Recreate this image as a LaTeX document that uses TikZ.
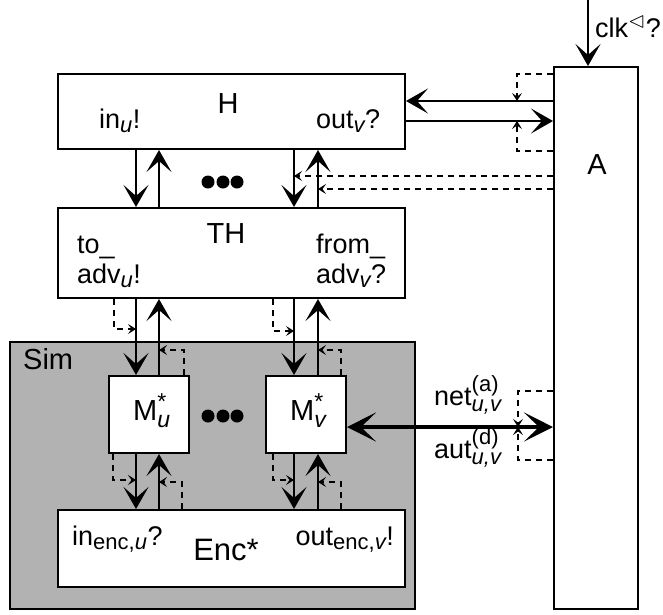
\RequirePackage{fix-cm}
\documentclass[tikz,border=0pt]{standalone}
\usepackage{amsmath}
\usepackage{amssymb}
\usepackage{fontspec}
\setmainfont{Liberation Sans}
\DeclareMathSizes{27}{27}{22}{18}
\DeclareMathSizes{29}{29}{23}{19}
\DeclareMathSizes{31}{31}{24}{19}
\usetikzlibrary{arrows.meta}

\tikzset{
  box/.style={draw, line width=2pt, fill=white, inner sep=0pt, anchor=north west},
  arr/.style={line width=2pt, -{Stealth[length=22pt,width=25pt,inset=11pt]}},
  wide/.style={line width=4pt, {Stealth[length=29pt,width=29pt,inset=15pt]}-{Stealth[length=29pt,width=29pt,inset=15pt]}},
  cue/.style={line width=1.5pt, dash pattern=on 6pt off 5pt, -{Stealth[length=8pt,width=10pt,inset=3.5pt]}},
  lbl/.style={font=\fontsize{27}{30}\selectfont, inner sep=0pt},
  ttl/.style={font=\fontsize{29}{32}\selectfont, inner sep=0pt},
  dot/.style={fill=black},
}

\begin{document}
\begin{tikzpicture}[x=1pt, y=-1pt]
\useasboundingbox (0,0) rectangle (663,614);
% boxes
\node[box, fill=black!30, minimum width=405pt, minimum height=267pt] (Sim) at (9,341) {};
\node[box, minimum width=347pt, minimum height=75pt] (H) at (57,73) {};
\node[box, minimum width=347pt, minimum height=90pt] (TH) at (57,207) {};
\node[box, minimum width=80pt, minimum height=77pt] (Mu) at (108,375) {};
\node[box, minimum width=80pt, minimum height=77pt] (Mv) at (265,375) {};
\node[box, minimum width=347pt, minimum height=77pt] (Enc) at (57,509) {};
\node[box, minimum width=84pt, minimum height=542pt] (A) at (553,66) {};
% texts
\node[ttl] (Ht) at (228,104) {H};
\node[lbl, anchor=base west] (Hin) at (99,128) {in$_{\textit{u}}$!};
\node[lbl, anchor=base west] (Hout) at (316,128) {out$_{\textit{v}}$?};
\node[ttl] (THt) at (226,234) {TH};
\node[lbl, anchor=base west] (THto) at (77,253) {to\_};
\node[lbl, anchor=base west] (THadvu) at (77,283) {adv$_{\textit{u}}$!};
\node[lbl, anchor=base west] (THfrom) at (316,253) {from\_};
\node[lbl, anchor=base west] (THadvv) at (316,283) {adv$_{\textit{v}}$?};
\node[ttl, anchor=base west] (Simt) at (23,369) {Sim};
\node[ttl, anchor=base west] (Mut) at (133,420) {M$^{\text{*}}_{\textit{u}}$};
\node[ttl, anchor=base west] (Mvt) at (290,420) {M$^{\text{*}}_{\textit{v}}$};
\node[lbl, anchor=base west] (Encin) at (72,545) {in$_{\text{enc,}\textit{u}}$?};
\node[lbl, anchor=base east] (Encout) at (394,545) {out$_{\text{enc,}\textit{v}}$!};
\node[ttl, font=\fontsize{31}{34}\selectfont, anchor=base] (Enct) at (226,560) {Enc*};
\node[ttl] (At) at (597,165) {A};
\node[lbl, anchor=base west] (clk) at (595,37) {clk$^{\vartriangleleft}$?};
\node[lbl, anchor=base west] (net) at (434,405) {net$^{\text{(a)}}_{\textit{u,v}}$};
\node[lbl, anchor=base west] (aut) at (434,458) {aut$^{\text{(d)}}_{\textit{u,v}}$};
% dots
\foreach \x in {208,223,237} {
  \fill[dot] (\x,182) circle (6.5pt);
  \fill[dot] (\x,416) circle (6.5pt);
}
% ports and levels
\coordinate (pdl) at (136,0);
\coordinate (pul) at (159,0);
\coordinate (pdr) at (294,0);
\coordinate (pur) at (318,0);
\coordinate (yin) at (0,101);
\coordinate (yout) at (0,121);
\coordinate (ynet) at (0,427);
\coordinate (yda) at (0,176);
\coordinate (ydb) at (0,189);
\coordinate (xclk) at (588,0);
% H <-> TH
\draw[arr] (pdl |- H.south) -- (pdl |- TH.north);
\draw[arr] (pul |- TH.north) -- (pul |- H.south);
\draw[arr] (pdr |- H.south) -- (pdr |- TH.north);
\draw[arr] (pur |- TH.north) -- (pur |- H.south);
% TH <-> M
\draw[arr] (pdl |- TH.south) -- (pdl |- Mu.north);
\draw[arr] (pul |- Mu.north) -- (pul |- TH.south);
\draw[arr] (pdr |- TH.south) -- (pdr |- Mv.north);
\draw[arr] (pur |- Mv.north) -- (pur |- TH.south);
% M <-> Enc
\draw[arr] (pdl |- Mu.south) -- (pdl |- Enc.north);
\draw[arr] (pul |- Enc.north) -- (pul |- Mu.south);
\draw[arr] (pdr |- Mv.south) -- (pdr |- Enc.north);
\draw[arr] (pur |- Enc.north) -- (pur |- Mv.south);
% H <-> A
\draw[arr] (xclk) -- (xclk |- A.north);
\draw[arr] (A.west |- yin) -- (H.east |- yin);
\draw[arr] (H.east |- yout) -- (A.west |- yout);
\draw[wide] (Mv.east |- ynet) -- (A.west |- ynet);
% dashed cues
\coordinate (c1) at (114,329);
\coordinate (c2) at (273,331);
\coordinate (c3) at (184,350);
\coordinate (c4) at (341,350);
\coordinate (c5) at (113,480);
\coordinate (c6) at (273,480);
\coordinate (c7) at (182,482);
\coordinate (c8) at (341,482);
\coordinate (c9) at (517,74);
\coordinate (c10) at (517,151);
\coordinate (c11) at (518,391);
\coordinate (c12) at (518,460);
\draw[cue] (c1 |- TH.south) -- (c1) -- (c1 -| pdl);
\draw[cue] (c2 |- TH.south) -- (c2) -- (c2 -| pdr);
\draw[cue] (c3 |- Mu.north) -- (c3) -- (c3 -| pul);
\draw[cue] (c4 |- Mv.north) -- (c4) -- (c4 -| pur);
\draw[cue] (c5 |- Mu.south) -- (c5) -- (c5 -| pdl);
\draw[cue] (c6 |- Mv.south) -- (c6) -- (c6 -| pdr);
\draw[cue] (c7 |- Enc.north) -- (c7) -- (c7 -| pul);
\draw[cue] (c8 |- Enc.north) -- (c8) -- (c8 -| pur);
\draw[cue] (A.west |- c9) -- (c9) -- (c9 |- yin);
\draw[cue] (A.west |- c10) -- (c10) -- (c10 |- yout);
\draw[cue] (A.west |- c11) -- (c11) -- (c11 |- ynet);
\draw[cue] (A.west |- c12) -- (c12) -- (c12 |- ynet);
\draw[cue] (A.west |- yda) -- (pdr |- yda);
\draw[cue] (A.west |- ydb) -- (pur |- ydb);
\end{tikzpicture}
\end{document}
